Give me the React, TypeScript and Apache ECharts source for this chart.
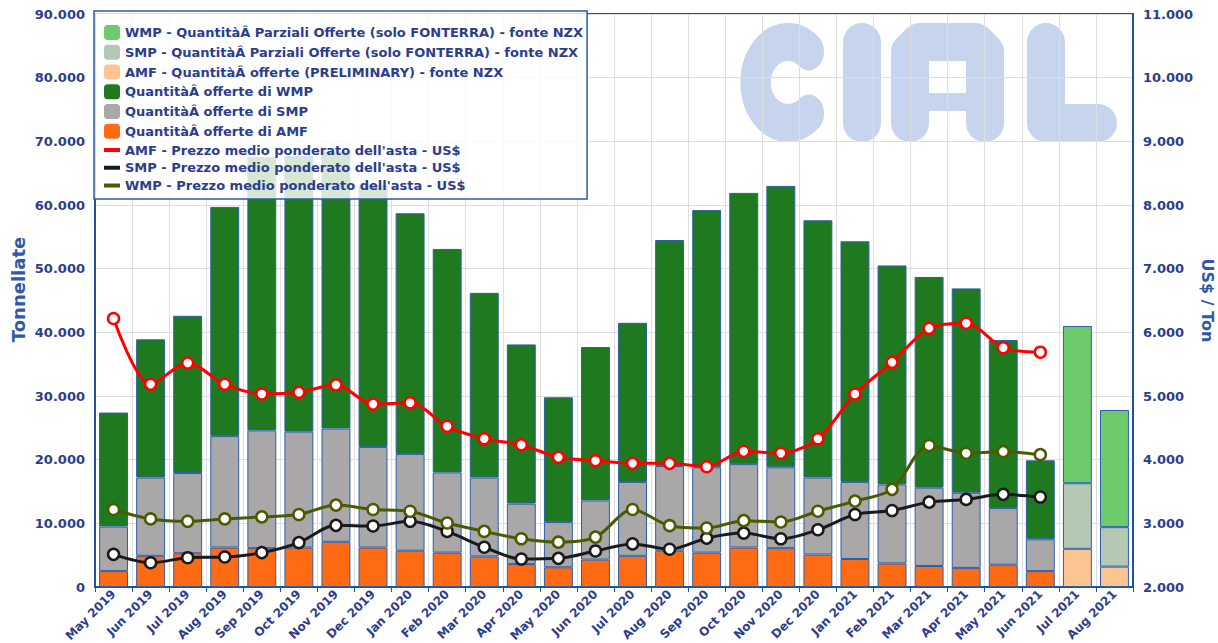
import React, { useEffect, useRef } from 'react';
import * as echarts from 'echarts';

const months = [
  'May 2019', 'Jun 2019', 'Jul 2019', 'Aug 2019', 'Sep 2019', 'Oct 2019', 'Nov 2019', 'Dec 2019',
  'Jan 2020', 'Feb 2020', 'Mar 2020', 'Apr 2020', 'May 2020', 'Jun 2020', 'Jul 2020', 'Aug 2020',
  'Sep 2020', 'Oct 2020', 'Nov 2020', 'Dec 2020', 'Jan 2021', 'Feb 2021', 'Mar 2021', 'Apr 2021',
  'May 2021', 'Jun 2021', 'Jul 2021', 'Aug 2021',
];

const amfQty = [2500, 4900, 5300, 6200, 6100, 6200, 7100, 6200, 5700, 5400, 4800, 3600, 3100, 4300, 4900, 5700, 5400, 6200, 6100, 5100, 4400, 3700, 3300, 3000, 3500, 2500, null, null];
const smpQty = [7000, 12300, 12600, 17500, 18500, 18200, 17800, 15800, 15200, 12600, 12400, 9500, 7100, 9300, 11600, 13300, 13400, 13100, 12700, 12100, 12100, 12400, 12300, 11800, 8900, 5000, null, null];
const wmpQty = [17900, 21700, 24700, 36000, 42900, 43300, 43500, 41100, 37800, 35100, 29000, 25000, 19600, 24100, 25000, 35500, 40400, 42600, 44200, 40400, 37800, 34400, 33100, 32100, 26400, 12400, null, null];
const amfPrelim = [null, null, null, null, null, null, null, null, null, null, null, null, null, null, null, null, null, null, null, null, null, null, null, null, null, null, 6000, 3200];
const smpPartial = [null, null, null, null, null, null, null, null, null, null, null, null, null, null, null, null, null, null, null, null, null, null, null, null, null, null, 10300, 6200];
const wmpPartial = [null, null, null, null, null, null, null, null, null, null, null, null, null, null, null, null, null, null, null, null, null, null, null, null, null, null, 24700, 18400];

const amfPrice = [6217, 5185, 5519, 5185, 5032, 5058, 5175, 4873, 4894, 4524, 4328, 4233, 4037, 3984, 3942, 3942, 3889, 4132, 4101, 4328, 5032, 5529, 6063, 6143, 5757, 5688, null, null];
const smpPrice = [2513, 2381, 2460, 2471, 2540, 2698, 2968, 2958, 3032, 2873, 2624, 2439, 2450, 2566, 2677, 2593, 2767, 2847, 2757, 2899, 3138, 3201, 3333, 3376, 3455, 3413, null, null];
const wmpPrice = [3217, 3069, 3032, 3069, 3101, 3138, 3286, 3217, 3190, 3005, 2873, 2757, 2704, 2783, 3217, 2963, 2926, 3042, 3021, 3190, 3349, 3534, 4222, 4101, 4127, 4079, null, null];

const N_WMP_P = 'WMP - QuantitàÂ Parziali Offerte (solo FONTERRA) - fonte NZX';
const N_SMP_P = 'SMP - QuantitàÂ Parziali Offerte (solo FONTERRA) - fonte NZX';
const N_AMF_P = 'AMF - QuantitàÂ offerte (PRELIMINARY) - fonte NZX';
const N_WMP = 'QuantitàÂ offerte di WMP';
const N_SMP = 'QuantitàÂ offerte di SMP';
const N_AMF = 'QuantitàÂ offerte di AMF';
const N_AMF_L = "AMF - Prezzo medio ponderato dell'asta - US$";
const N_SMP_L = "SMP - Prezzo medio ponderato dell'asta - US$";
const N_WMP_L = "WMP - Prezzo medio ponderato dell'asta - US$";

const NAVY = '#2b3d8c';
const AXIS_BLUE = '#2151a6';
const FONT = 'DejaVu Sans';
const LOGO = '#c6d4ee';

const fmt = (v: number) => String(v).replace(/\B(?=(\d{3})+(?!\d))/g, '.');

const logoStroke = { stroke: LOGO, fill: null, lineWidth: 38, lineCap: 'round', lineJoin: 'round' };

export default function App() {
  const ref = useRef<HTMLDivElement>(null);
  useEffect(() => {
    const chart = echarts.init(ref.current!, null, { renderer: 'svg' });
    const barBase = {
      type: 'bar',
      stack: 'q',
      barWidth: '78%',
      itemStyle: { borderColor: '#2a5fb0', borderWidth: 1 },
      emphasis: { disabled: true },
    };
    const lineBase = (name: string, data: (number | null)[], color: string) => ({
      name,
      type: 'line',
      yAxisIndex: 1,
      data,
      smooth: 0.3,
      symbol: 'circle',
      symbolSize: 11,
      z: 5,
      lineStyle: { color, width: 3 },
      itemStyle: { color: '#ffffff', borderColor: color, borderWidth: 2.5 },
      emphasis: { disabled: true },
    });
    const lineIcon = 'path://M0 0H20V5H0Z';
    chart.setOption({
      animation: false,
      textStyle: { fontFamily: FONT },
      grid: {
        left: 95, right: 85, top: 14, bottom: 56,
        outerBoundsMode: 'none',
        containLabel: false,
        show: true, borderColor: AXIS_BLUE, borderWidth: 2,
      },
      graphic: [
        {
          type: 'group',
          z: -1,
          silent: true,
          children: [
            {
              type: 'arc',
              x: 788, y: 82.5, scaleX: 0.8,
              shape: { cx: 0, cy: 0, r: 40.5, startAngle: (50 * Math.PI) / 180, endAngle: (310 * Math.PI) / 180, clockwise: true },
              style: { ...logoStroke, lineWidth: 38 },
            },
            { type: 'line', shape: { x1: 862, y1: 42, x2: 862, y2: 123 }, style: logoStroke },
            { type: 'polyline', shape: { points: [[910, 123], [910, 52], [920, 42], [975, 42], [985, 52], [985, 123]] }, style: logoStroke },
            { type: 'line', shape: { x1: 910, y1: 102, x2: 985, y2: 102 }, style: { ...logoStroke, lineWidth: 18, lineCap: 'butt' } },
            { type: 'polyline', shape: { points: [[1046, 42], [1046, 123], [1098, 123]] }, style: logoStroke },
          ],
        },
      ],
      legend: {
        orient: 'vertical',
        left: 94,
        top: 11,
        padding: [14, 4, 7, 10],
        itemWidth: 16,
        itemHeight: 15,
        itemGap: 4.75,
        backgroundColor: 'rgba(255,255,255,0.82)',
        borderColor: '#2a5ca8',
        borderWidth: 1.5,
        borderRadius: 0,
        selectedMode: false,
        itemStyle: { borderWidth: 0 },
        textStyle: { color: NAVY, fontWeight: 'bold', fontSize: 13, fontFamily: FONT },
        data: [
          { name: N_WMP_P, icon: 'roundRect' },
          { name: N_SMP_P, icon: 'roundRect' },
          { name: N_AMF_P, icon: 'roundRect' },
          { name: N_WMP, icon: 'roundRect' },
          { name: N_SMP, icon: 'roundRect' },
          { name: N_AMF, icon: 'roundRect' },
          { name: N_AMF_L, icon: lineIcon, itemStyle: { color: '#ff0000', borderWidth: 0 } },
          { name: N_SMP_L, icon: lineIcon, itemStyle: { color: '#1a1a1a', borderWidth: 0 } },
          { name: N_WMP_L, icon: lineIcon, itemStyle: { color: '#4b5a00', borderWidth: 0 } },
        ],
      },
      xAxis: {
        type: 'category',
        data: months,
        boundaryGap: true,
        axisLine: { lineStyle: { color: AXIS_BLUE, width: 2 } },
        axisTick: { show: true, lineStyle: { color: AXIS_BLUE }, length: 5 },
        splitLine: { show: true, lineStyle: { color: '#dedede', width: 1 } },
        axisLabel: {
          interval: 0, rotate: 45, color: NAVY, fontWeight: 'bold', fontSize: 12, margin: 5, fontFamily: FONT,
        },
      },
      yAxis: [
        {
          type: 'value',
          min: 0, max: 90000, interval: 10000,
          name: 'Tonnellate',
          nameLocation: 'middle',
          nameGap: 68,
          nameMoveOverlap: false,
          nameRotate: 90,
          nameTextStyle: { color: '#2f5aa8', fontWeight: 'bold', fontSize: 18, fontFamily: FONT, padding: [0, 0, 0, 22] },
          axisLine: { show: true, lineStyle: { color: AXIS_BLUE, width: 2 } },
          axisTick: { show: false },
          splitLine: { show: true, lineStyle: { color: '#dedede', width: 1 } },
          axisLabel: { color: NAVY, fontWeight: 'bold', fontSize: 13, margin: 10, formatter: fmt, fontFamily: FONT },
        },
        {
          type: 'value',
          min: 2000, max: 11000, interval: 1000,
          name: 'US$ / Ton',
          nameLocation: 'middle',
          nameGap: 66,
          nameMoveOverlap: false,
          nameRotate: -90,
          nameTextStyle: { color: '#2f5aa8', fontWeight: 'bold', fontSize: 16, fontFamily: FONT },
          axisLine: { show: true, lineStyle: { color: AXIS_BLUE, width: 2 } },
          axisTick: { show: false },
          splitLine: { show: false },
          axisLabel: { color: NAVY, fontWeight: 'bold', fontSize: 13, margin: 10, formatter: fmt, fontFamily: FONT },
        },
      ],
      series: [
        { ...barBase, name: N_AMF, data: amfQty, itemStyle: { ...barBase.itemStyle, color: '#ff6a14' } },
        { ...barBase, name: N_AMF_P, data: amfPrelim, itemStyle: { ...barBase.itemStyle, color: '#fcc490' } },
        { ...barBase, name: N_SMP, data: smpQty, itemStyle: { ...barBase.itemStyle, color: '#a9a7a7' } },
        { ...barBase, name: N_SMP_P, data: smpPartial, itemStyle: { ...barBase.itemStyle, color: '#b4c8b4' } },
        { ...barBase, name: N_WMP, data: wmpQty, itemStyle: { ...barBase.itemStyle, color: '#1f7a1f' } },
        { ...barBase, name: N_WMP_P, data: wmpPartial, itemStyle: { ...barBase.itemStyle, color: '#6ecb6b' } },
        lineBase(N_AMF_L, amfPrice, '#ff0000'),
        lineBase(N_SMP_L, smpPrice, '#1a1a1a'),
        lineBase(N_WMP_L, wmpPrice, '#4b5a00'),
      ],
    });
    return () => chart.dispose();
  }, []);
  return <div ref={ref} style={{ position: 'absolute', left: 0, top: 0, width: 1218, height: 643 }} />;
}
